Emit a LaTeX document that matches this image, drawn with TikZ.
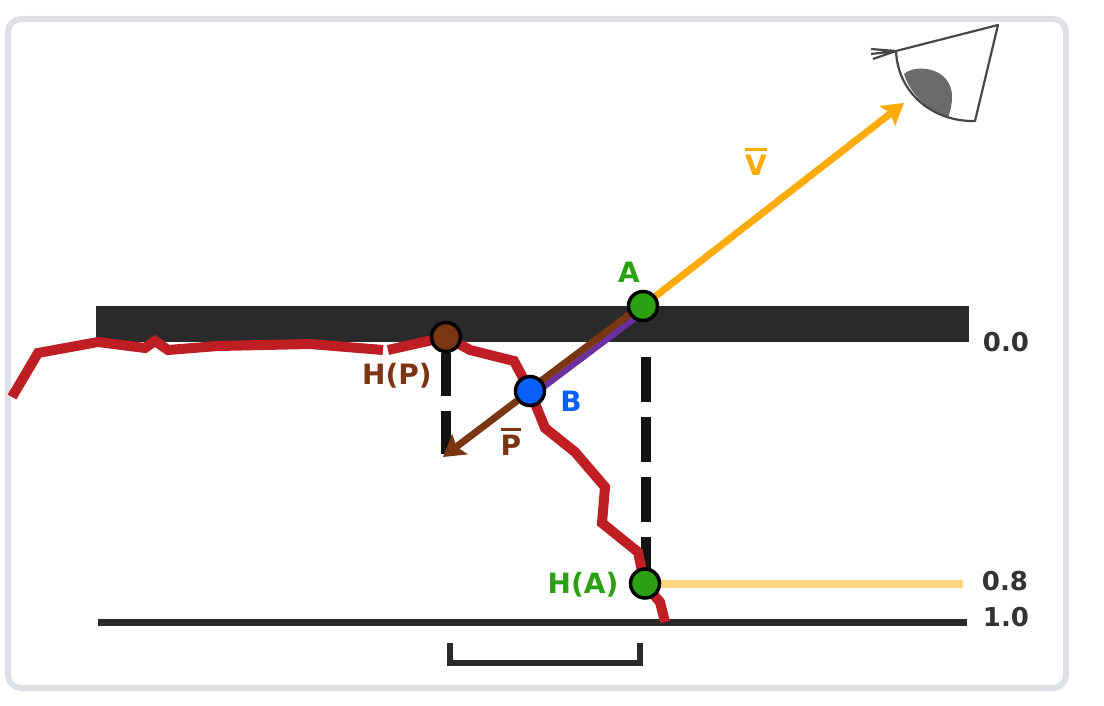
\documentclass[tikz,border=0pt]{standalone}
\usepackage{fontspec}
\setmainfont{DejaVu Sans}
\usetikzlibrary{arrows.meta,positioning}
\definecolor{frame}{HTML}{DDE0E5}
\definecolor{surf}{HTML}{2A2A2A}
\definecolor{crack}{HTML}{BE1E24}
\definecolor{view}{HTML}{FFAB0A}
\definecolor{viewlt}{HTML}{FFD580}
\definecolor{brn}{HTML}{7A3512}
\definecolor{prp}{HTML}{6B2FA0}
\definecolor{grn}{HTML}{2AA012}
\definecolor{blu}{HTML}{0A60FF}
\definecolor{lbl}{HTML}{333333}
\pgfdeclarelayer{back}
\pgfsetlayers{back,main}
\newcommand{\barred}[1]{\vbox{\hrule height 3pt\kern 4pt\hbox{#1}}}
\tikzset{
  pt/.style={circle,draw=black,line width=3.5pt,inner sep=0pt,minimum size=29pt},
  txt/.style={inner sep=0pt,font=\fontsize{28}{32}\selectfont\bfseries},
  num/.style={txt,text=lbl,font=\fontsize{26}{30}\selectfont\bfseries},
  slab/.style={fill=surf,inner sep=0pt},
  hgt/.style={black!92,line width=10.5pt,dash pattern=on 45pt off 15pt},
  redl/.style={crack,line width=10pt,line join=miter},
  ar/.style={-{Stealth[length=21pt,width=25pt,inset=4pt]},line width=7pt},
}
\begin{document}
\begin{tikzpicture}[x=1pt,y=-1pt]
  \useasboundingbox (0,0) rectangle (1104,706);
  % points
  \node[pt,fill=grn] (A) at (643,306) {};
  \node[pt,fill=blu] (B) at (530,391) {};
  \node[pt,fill=brn] (HP) at (446,337) {};
  \node[pt,fill=grn] (HA) at (645,583.5) {};
  \coordinate (Ptip) at (443,457);
  \coordinate (Vtip) at (904,103);
  \coordinate (Atop) at (646,357);
  \coordinate (Hend) at (963,583.5);
  \begin{pgfonlayer}{back}
  \draw[frame,line width=6pt,rounded corners=13pt,fill=white] (8,19) rectangle (1066,688);
  % surfaces
  \node[slab,minimum width=873pt,minimum height=36pt] (top) at (532.5,324) {};
  \node[slab,minimum width=869pt,minimum height=7pt] (bot) at (532.5,622.5) {};
  % height lines
  \draw[hgt,dash pattern=on 43pt off 15pt] (HP) -- (HP |- Ptip);
  \draw[hgt] (Atop) -- (Atop |- HA);
  \draw[viewlt,line width=8pt] (HA) -- (Hend);
  % height profile
  \draw[redl] (12,397) -- (38,353) -- (98,342) -- (145,348) -- (155,341) -- (168,350)
    -- (218,346) -- (310,344) -- (383,350);
  \draw[redl] (388,350) -- (446,337) -- (470,350) -- (514,361) -- (530,391) -- (545,428)
    -- (575,452) -- (605,487) -- (602,523) -- (638,552) -- (645,585) -- (660,602) -- (665,622);
  % rays
  \draw[ar,view] (A) -- (Vtip);
  \draw[prp,line width=6pt] ([shift={(3,4)}]A.center) -- ([shift={(3,4)}]B.center);
  \draw[brn,line width=7pt] ([shift={(-1,-1)}]A.center) -- ([shift={(-1,-1)}]B.center);
  \draw[ar,brn] (B) -- (Ptip);
  \end{pgfonlayer}
  % labels
  \node[txt,text=grn] (Alab) at (629,272) {A};
  \node[txt,text=blu] (Blab) at (571,401) {B};
  \node[txt,text=brn] (HPlab) at (397,376) {H(P)};
  \node[txt,text=grn] (HAlab) at (583,585) {H(A)};
  \node[txt,text=view] (Vlab) at (756,162) {\barred{V}};
  \node[txt,text=brn] (Plab) at (511,442) {\barred{P}};
  \node[num] (d0) at (1006,342) {0.0};
  \node[num] (d8) at (1005,581) {0.8};
  \node[num] (d1) at (1006,617) {1.0};
  % bracket
  \draw[surf,line width=6pt] (450,643) -- (450,663) -- (640,663) -- (640,643);
  % eye
  \fill[black!58] (904,74) .. controls (914,64) and (952,66) .. (952,97) .. controls (952,105) and (950,112) .. (948,118)
    .. controls (930,112) and (911,96) .. (904,74) -- cycle;
  \draw[black!72,line width=2.2pt,line join=round] (896,51) -- (998,25) -- (975,121) .. controls (935,122) and (898,95) .. (896,51);
  \draw[black!72,line width=2.2pt] (896,51) -- (871,49) (896,51) -- (871,54) (896,51) -- (873,59);
\end{tikzpicture}
\end{document}
